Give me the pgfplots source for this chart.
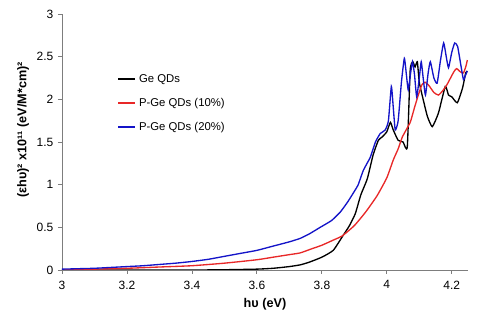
\documentclass[border=0pt]{standalone}
\usepackage{fontspec}
\setmainfont{Liberation Sans}
\usepackage{pgfplots}
\pgfplotsset{compat=1.18}

\definecolor{p10}{RGB}{232,40,40}
\definecolor{p20}{RGB}{20,20,200}
\definecolor{axgray}{RGB}{125,125,125}

\begin{document}
\begin{tikzpicture}
\begin{axis}[
    scale only axis,
    width=304.5pt, height=192pt,
    xmin=3, xmax=4.25, ymin=0, ymax=3,
    axis lines*=left,
    axis line style={axgray, -, line width=0.7pt},
    xtick={3,3.2,3.4,3.6,3.8,4,4.2},
    ytick={0,0.5,1,1.5,2,2.5,3},
    tick align=outside,
    major tick length=3pt,
    tick style={axgray, line width=0.6pt},
    /pgf/number format/assume math mode=true,
    tick label style={font=\fontsize{9}{10}\selectfont},
    xticklabel style={yshift=-1.5pt},
    xlabel={hυ (eV)},
    ylabel={(εhυ)² x10¹¹ (eV/M*cm)²},
    label style={font=\fontsize{9.5}{11}\selectfont\bfseries},
    xlabel style={at={(axis description cs:0.5,-0.133)}, anchor=center},
    ylabel style={at={(axis description cs:-0.096,0.547)}, anchor=center},
    legend style={draw=none, fill=none, at={(rel axis cs:0.135,0.775)}, anchor=north west,
        inner sep=0pt, font=\fontsize{8.5}{10}\selectfont, row sep=6.5pt,
        /tikz/every even column/.append style={column sep=0pt}},
    legend cell align=left,
    legend image code/.code={\draw[#1, line width=1.5pt] (0pt,0.4pt) -- (13pt,0.4pt);},
    every axis plot/.append style={line width=1pt},
]
\coordinate (ll) at (rel axis cs:0,0);
\coordinate (ur) at (rel axis cs:1,1);

\addplot[black, smooth, tension=0.3] coordinates {
(3.00,0.0) (3.40,0.0) (3.50,0.003) (3.60,0.01) (3.65,0.02) (3.70,0.04)
(3.733,0.06) (3.76,0.09) (3.80,0.15) (3.835,0.23) (3.863,0.39) (3.885,0.52)
(3.903,0.66) (3.92,0.88) (3.94,1.07) (3.958,1.35) (3.974,1.52) (3.986,1.56)
(4.00,1.62) (4.011,1.73) (4.02,1.64) (4.035,1.52) (4.05,1.50) (4.063,1.44)
(4.072,2.34) (4.08,2.44) (4.087,2.38) (4.094,2.44) (4.10,2.2) (4.11,2.03)
(4.125,1.8) (4.14,1.68) (4.159,1.84) (4.18,2.15) (4.19,2.05) (4.20,2.03)
(4.217,1.96) (4.233,2.13) (4.243,2.31) (4.248,2.33)
};
\addlegendentry{Ge QDs}

\addplot[p10, smooth, tension=0.3] coordinates {
(3.00,0.0) (3.10,0.01) (3.20,0.02) (3.30,0.035) (3.40,0.05) (3.50,0.08)
(3.60,0.12) (3.65,0.15) (3.70,0.18) (3.733,0.20) (3.77,0.25) (3.80,0.29)
(3.835,0.35) (3.863,0.40) (3.90,0.52) (3.935,0.68) (3.97,0.87) (4.00,1.08)
(4.02,1.29) (4.035,1.42) (4.048,1.56) (4.072,1.73) (4.085,1.9) (4.097,2.05)
(4.108,2.17) (4.118,2.2) (4.13,2.16) (4.145,2.08) (4.159,2.05) (4.172,2.1)
(4.185,2.17) (4.206,2.32) (4.215,2.36) (4.227,2.32) (4.236,2.31) (4.243,2.38)
(4.248,2.46)
};
\addlegendentry{P-Ge QDs (10\%)}

\addplot[p20, smooth, tension=0.3] coordinates {
(3.00,0.01) (3.05,0.015) (3.10,0.02) (3.15,0.03) (3.20,0.04) (3.25,0.05)
(3.30,0.065) (3.35,0.08) (3.40,0.10) (3.45,0.125) (3.50,0.16) (3.55,0.195)
(3.60,0.23) (3.65,0.28) (3.70,0.33) (3.733,0.37) (3.76,0.42) (3.795,0.50)
(3.83,0.58) (3.857,0.68) (3.88,0.80) (3.903,0.94) (3.912,1.00) (3.928,1.17)
(3.949,1.32) (3.965,1.5) (3.98,1.6) (3.995,1.64) (4.005,1.75) (4.014,2.15)
(4.02,1.9) (4.026,1.64) (4.035,1.75) (4.045,2.2) (4.054,2.48) (4.06,2.3)
(4.066,2.11) (4.073,2.3) (4.079,2.44) (4.085,2.3) (4.092,2.03) (4.10,2.25)
(4.106,2.44) (4.112,2.25) (4.119,2.05) (4.127,2.3) (4.134,2.44) (4.145,2.25)
(4.155,2.19) (4.165,2.45) (4.175,2.66) (4.183,2.5) (4.19,2.37) (4.20,2.55)
(4.209,2.66) (4.218,2.62) (4.228,2.4) (4.236,2.23) (4.242,2.28) (4.248,2.33)
};
\addlegendentry{P-Ge QDs (20\%)}
\end{axis}
\pgfresetboundingbox
\path ([shift={(-46.5pt,-42.75pt)}]ll) rectangle ([shift={(18.75pt,10.5pt)}]ur);
\end{tikzpicture}
\end{document}
